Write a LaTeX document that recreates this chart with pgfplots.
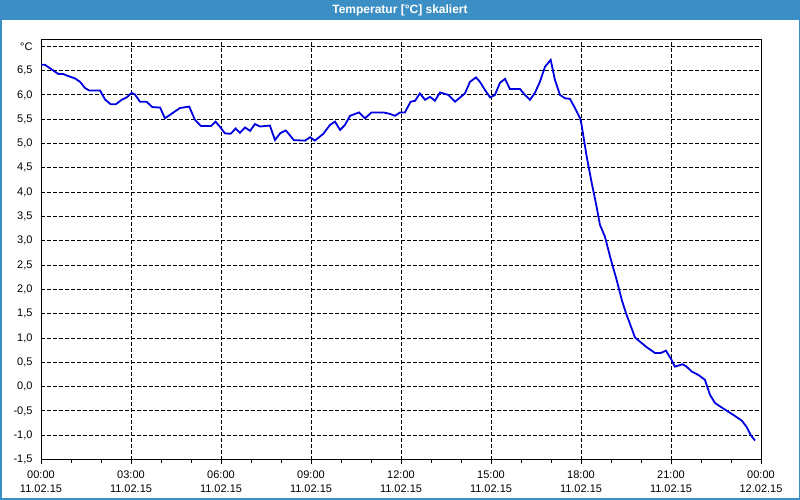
\documentclass[border=0pt]{standalone}
\usepackage{pgfplots}
\pgfplotsset{compat=1.18}
\usepackage{fontspec}
\setmainfont{Liberation Sans}
\definecolor{barblue}{RGB}{60,143,196}
\definecolor{lineblue}{RGB}{0,0,225}
\begin{document}
\begin{tikzpicture}
\fill[white] (0pt,0pt) rectangle (800pt,500pt);
\fill[barblue] (0pt,480pt) rectangle (800pt,500pt);
\draw[barblue, line width=1.5pt] (0.75pt,480pt) -- (0.75pt,0.75pt) -- (799.25pt,0.75pt) -- (799.25pt,480pt);
\node[text=white, font=\bfseries\fontsize{12}{14}\selectfont] at (400pt,490pt) {Temperatur [°C] skaliert};
\begin{axis}[
  at={(41pt,40pt)}, anchor=south west,
  scale only axis, width=720pt, height=420pt,
  xmin=0, xmax=24, ymin=-1.51, ymax=7.13,
  axis line style={black, line width=1pt},
  xtick={0,3,...,24},
  xticklabels={{00:00\\11.02.15},{03:00\\11.02.15},{06:00\\11.02.15},{09:00\\11.02.15},{12:00\\11.02.15},{15:00\\11.02.15},{18:00\\11.02.15},{21:00\\11.02.15},{00:00\\12.02.15}},
  xticklabel style={align=center, font=\fontsize{11}{14.3}\selectfont, yshift=-3pt},
  minor x tick num=2,
  ytick={-1.5,-1,-0.5,0,0.5,1,1.5,2,2.5,3,3.5,4,4.5,5,5.5,6,6.5,7},
  yticklabels={{-1,5},{-1,0},{-0,5},{0,0},{0,5},{1,0},{1,5},{2,0},{2,5},{3,0},{3,5},{4,0},{4,5},{5,0},{5,5},{6,0},{6,5},{°C}},
  yticklabel style={font=\fontsize{11}{13}\selectfont, xshift=-1pt},
  tick align=outside, xtick pos=bottom, ytick pos=left,
  major tick length=4pt, minor tick length=3pt,
  ytick style={draw=none},
  xtick style={black, line width=0.8pt},
  grid=major,
  major grid style={black, line width=0.9pt, dash pattern=on 3.5pt off 2.5pt},
]
\addplot[lineblue, line width=1.8pt] coordinates {
(0,6.62)(0.13,6.62)(0.58,6.43)(0.74,6.43)(0.86,6.40)(1.13,6.34)(1.3,6.27)(1.47,6.14)(1.61,6.09)(1.97,6.09)
(2.13,5.91)(2.32,5.81)(2.5,5.81)(2.69,5.90)(2.86,5.95)(3.02,6.04)(3.13,6.01)(3.3,5.86)(3.52,5.86)(3.71,5.75)
(3.97,5.74)(4.13,5.52)(4.3,5.59)(4.63,5.73)(4.94,5.76)(5.13,5.49)(5.33,5.36)(5.67,5.36)(5.82,5.45)(5.97,5.34)
(6.13,5.21)(6.32,5.20)(6.49,5.31)(6.63,5.22)(6.8,5.33)(6.97,5.26)(7.13,5.40)(7.3,5.35)(7.63,5.37)(7.8,5.07)
(7.97,5.21)(8.16,5.27)(8.43,5.07)(8.8,5.06)(8.97,5.13)(9.13,5.06)(9.41,5.20)(9.63,5.38)(9.8,5.45)(9.97,5.28)
(10.13,5.38)(10.3,5.57)(10.6,5.64)(10.8,5.52)(11.02,5.64)(11.41,5.64)(11.63,5.61)(11.8,5.57)(11.97,5.64)(12.13,5.64)
(12.32,5.86)(12.47,5.88)(12.63,6.03)(12.8,5.90)(12.97,5.96)(13.13,5.88)(13.3,6.05)(13.58,6.00)(13.8,5.86)(14.13,6.03)
(14.3,6.27)(14.5,6.36)(14.63,6.27)(14.8,6.10)(14.97,5.95)(15.13,6.00)(15.3,6.25)(15.47,6.33)(15.63,6.12)(15.97,6.12)
(16.13,6.00)(16.3,5.90)(16.47,6.05)(16.63,6.27)(16.8,6.58)(16.99,6.72)(17.13,6.31)(17.3,6.00)(17.47,5.93)(17.63,5.92)
(17.8,5.73)(17.97,5.52)(18.02,5.38)(18.19,4.73)(18.36,4.18)(18.52,3.70)(18.63,3.33)(18.8,3.08)(18.97,2.67)(19.19,2.19)
(19.36,1.78)(19.5,1.51)(19.8,1.01)(20.19,0.81)(20.47,0.69)(20.66,0.69)(20.83,0.74)(20.99,0.58)(21.13,0.41)(21.39,0.46)
(21.52,0.41)(21.69,0.31)(21.91,0.24)(22.13,0.14)(22.3,-0.17)(22.47,-0.34)(22.74,-0.45)(23.02,-0.56)(23.36,-0.70)(23.52,-0.83)
(23.66,-1.00)(23.8,-1.11)
};
\end{axis}
\end{tikzpicture}
\end{document}
